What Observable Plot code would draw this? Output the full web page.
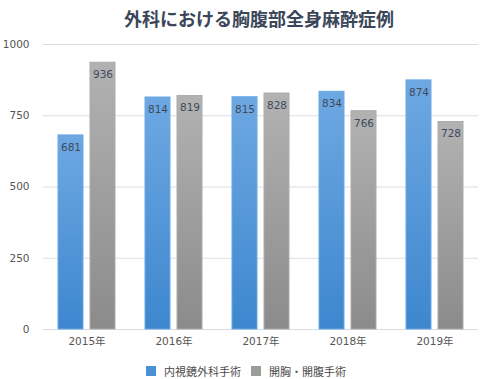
<!DOCTYPE html>
<html>
<head>
<meta charset="utf-8">
<script src="https://cdn.jsdelivr.net/npm/d3@7"></script>
<script src="https://cdn.jsdelivr.net/npm/@observablehq/plot@0.6"></script>
<style>
  body { margin: 0; background: #fff; font-family: "DejaVu Sans", "Noto Sans CJK JP", sans-serif; }
  #wrap { width: 480px; height: 379px; position: relative; overflow: hidden; }
  #title { height: 36px; line-height: 36px; text-align: center; font-size: 18px; font-weight: bold; color: #3b4659; padding-left: 38px; box-sizing: border-box; font-family: "Noto Sans CJK JP", sans-serif; }
  #legend { display: flex; justify-content: center; align-items: center; gap: 10px; font-size: 11px; color: #4a4a4a; padding-left: 12px; margin-top: 7px; font-family: "Noto Sans CJK JP", sans-serif; }
  .item { display: flex; align-items: center; gap: 8px; }
  .sw { width: 10px; height: 10px; display: inline-block; }
</style>
</head>
<body>
<div id="wrap">
  <div id="title">外科における胸腹部全身麻酔症例</div>
  <div id="chart"></div>
  <div id="legend"></div>
</div>
<script>
const years = ["2015年", "2016年", "2017年", "2018年", "2019年"];
const seriesNames = ["内視鏡外科手術", "開胸・開腹手術"];
const endoscopic = [681, 814, 815, 834, 874];
const openSurgery = [936, 819, 828, 766, 728];
const yTicks = [0, 250, 500, 750, 1000];
const seriesColors = ["#4a90d6", "#9c9c9c"];

const data = [];
years.forEach((y, i) => {
  data.push({year: y, series: seriesNames[0], value: endoscopic[i]});
  data.push({year: y, series: seriesNames[1], value: openSurgery[i]});
});

const chart = Plot.plot({
  width: 480,
  height: 320,
  marginLeft: 41,
  marginRight: 0,
  marginTop: 8,
  marginBottom: 27,
  style: {fontFamily: "'DejaVu Sans', 'Noto Sans CJK JP', sans-serif", fontSize: "10.5px", color: "#555"},
  fx: {domain: years, padding: 0, label: null, axis: "bottom", tickSize: 0, tickPadding: 8},
  x: {domain: seriesNames, paddingInner: 0.23, paddingOuter: 0.44, axis: null},
  y: {domain: [0, 1000], ticks: yTicks, tickSize: 0, tickPadding: 14, label: null, tickFormat: d => String(d)},
  color: {domain: seriesNames, range: ["url(#gBlue)", "url(#gGray)"]},
  marks: [
    Plot.ruleY(yTicks, {stroke: "#d9dde3", strokeWidth: 1}),
    Plot.barY(data, {fx: "year", x: "series", y: "value", fill: "series",
      stroke: d => d.series === seriesNames[0] ? "#6aa8e6" : "#ababab", strokeWidth: 1}),
    Plot.text(data, {fx: "year", x: "series", y: "value", text: d => String(d.value),
      dy: 12, fill: "#3e4a5c", fontSize: 10.5})
  ]
});

const ns = "http://www.w3.org/2000/svg";
const defs = document.createElementNS(ns, "defs");
defs.innerHTML = `
  <linearGradient id="gBlue" x1="0" y1="0" x2="0" y2="1">
    <stop offset="0" stop-color="#6ea8e2"/>
    <stop offset="1" stop-color="#3d87cf"/>
  </linearGradient>
  <linearGradient id="gGray" x1="0" y1="0" x2="0" y2="1">
    <stop offset="0" stop-color="#b2b2b2"/>
    <stop offset="1" stop-color="#8b8b8b"/>
  </linearGradient>`;
chart.insertBefore(defs, chart.firstChild);
document.getElementById("chart").appendChild(chart);

const legend = document.getElementById("legend");
seriesNames.forEach((s, i) => {
  const it = document.createElement("div");
  it.className = "item";
  const sw = document.createElement("span");
  sw.className = "sw";
  sw.style.background = seriesColors[i];
  const t = document.createElement("span");
  t.textContent = s;
  it.appendChild(sw); it.appendChild(t);
  legend.appendChild(it);
});
</script>
</body>
</html>
